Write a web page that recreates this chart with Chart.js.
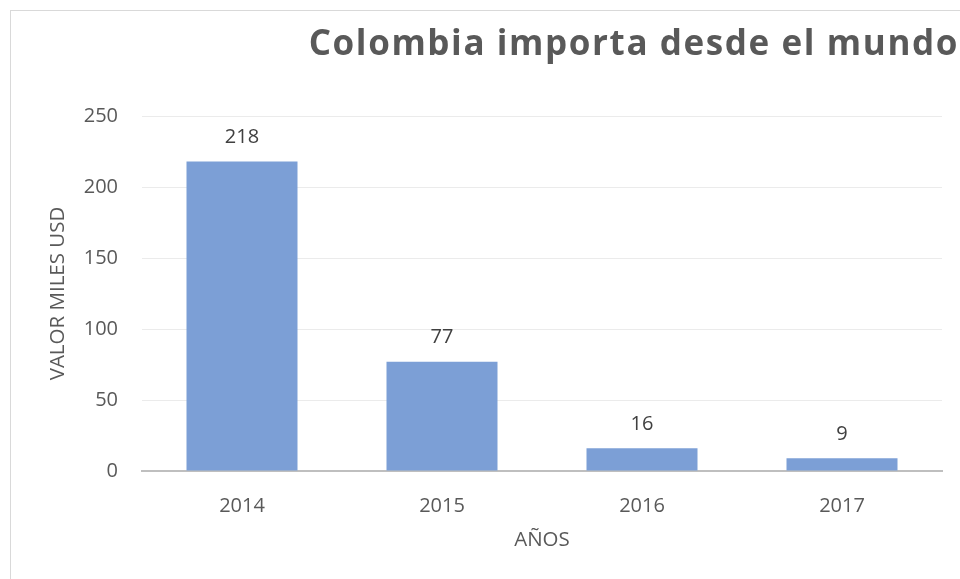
<!DOCTYPE html>
<html>
<head>
<meta charset="utf-8">
<script src="https://cdn.jsdelivr.net/npm/chart.js@4.4.1/dist/chart.umd.min.js"></script>
<style>
  html, body { margin: 0; padding: 0; background: #fff; overflow: hidden; width: 960px; height: 579px; }
  #frame { position: absolute; left: 10px; top: 10px; width: 1200px; height: 800px; border: 1px solid #d9d9d9; }
  #chart { position: absolute; left: 0; top: 0; }
</style>
</head>
<body>
<div id="frame"><canvas id="chart" width="947" height="568"></canvas></div>
<script>
  "use strict";

  const years = ["2014", "2015", "2016", "2017"];
  const importValues = [218, 77, 16, 9];
  const yTicks = [0, 50, 100, 150, 200, 250];

  const chartTitle = "Colombia importa desde el mundo";
  const yTitle = "VALOR MILES USD";
  const xTitle = "AÑOS";

  Chart.defaults.font.family = "'Open Sans', sans-serif";
  Chart.defaults.color = "#595959";

  // values above the bars, like the excel data labels
  const barLabels = {
    id: "barLabels",
    afterDatasetsDraw(chart) {
      const ctx = chart.ctx;
      const meta = chart.getDatasetMeta(0);
      ctx.save();
      ctx.font = "20px 'Open Sans', sans-serif";
      ctx.fillStyle = "#404040";
      ctx.textAlign = "center";
      ctx.textBaseline = "middle";
      meta.data.forEach((bar, i) => {
        ctx.fillText(String(importValues[i]), bar.x, bar.y - 24);
      });
      ctx.restore();
    }
  };

  // excel title is wider spaced than the built-in title can do, so draw it here
  const spacedTitle = {
    id: "spacedTitle",
    afterDraw(chart) {
      const ctx = chart.ctx;
      ctx.save();
      ctx.font = "bold 35px 'Open Sans', sans-serif";
      ctx.letterSpacing = "1.6px";
      ctx.fillStyle = "#595959";
      ctx.textAlign = "right";
      ctx.textBaseline = "alphabetic";
      ctx.fillText(chartTitle, chart.width + 1, 44);
      ctx.restore();
    }
  };

  new Chart(document.getElementById("chart"), {
    type: "bar",
    data: {
      labels: years,
      datasets: [{
        data: importValues,
        backgroundColor: "#7c9fd6",
        borderWidth: 0,
        barPercentage: 1,
        categoryPercentage: 0.555
      }]
    },
    options: {
      responsive: false,
      animation: false,
      layout: { padding: { top: 105, left: 0, right: 0, bottom: 0 } },
      plugins: {
        legend: { display: false },
        tooltip: { enabled: false },
        title: { display: false }
      },
      scales: {
        x: {
          grid: { display: false },
          border: { display: true, color: "#bfbfbf", width: 2 },
          ticks: { font: { size: 20 }, padding: 15, color: "#595959" },
          title: {
            display: true,
            text: xTitle,
            font: { size: 20.5 },
            color: "#595959",
            padding: { top: 0, bottom: 26.5 }
          },
          afterFit: (s) => { s.height = 108; }
        },
        y: {
          min: 0,
          max: 250,
          afterBuildTicks: (s) => { s.ticks = yTicks.map(v => ({ value: v })); },
          grid: { color: "#ebebeb", lineWidth: 1, drawTicks: false },
          border: { display: false },
          ticks: { font: { size: 20 }, padding: 24, color: "#595959" },
          title: {
            display: true,
            text: yTitle,
            font: { size: 20.5 },
            color: "#595959",
            padding: { top: 34.5, bottom: 0 }
          },
          afterFit: (s) => { s.width = 131; }
        },
        spacer: {
          type: "linear",
          position: "right",
          display: true,
          grid: { display: false },
          border: { display: false },
          ticks: { display: false },
          afterFit: (s) => { s.width = 16; }
        }
      }
    },
    plugins: [barLabels, spacedTitle]
  });
</script>
</body>
</html>
